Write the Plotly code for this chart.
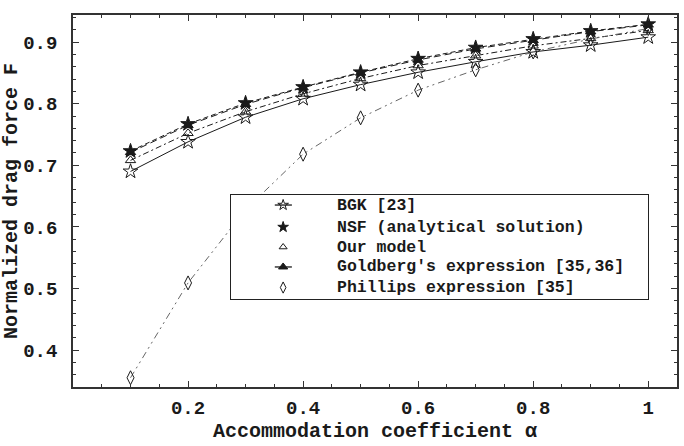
import plotly.graph_objects as go

alpha = [0.1, 0.2, 0.3, 0.4, 0.5, 0.6, 0.7, 0.8, 0.9, 1.0]
bgk = [0.690, 0.738, 0.778, 0.808, 0.831, 0.851, 0.868, 0.884, 0.895, 0.908]
nsf = [0.723, 0.767, 0.801, 0.827, 0.851, 0.873, 0.891, 0.905, 0.918, 0.929]
our_model = [0.708, 0.752, 0.787, 0.816, 0.841, 0.862, 0.878, 0.894, 0.906, 0.919]
goldberg = [0.721, 0.765, 0.799, 0.826, 0.850, 0.871, 0.889, 0.903, 0.917, 0.928]
phillips = [0.355, 0.509, 0.628, 0.718, 0.777, 0.822, 0.855, 0.884, 0.905, 0.922]

x_ticks = [0.2, 0.4, 0.6, 0.8, 1.0]
x_ticktext = ["0.2", "0.4", "0.6", "0.8", "1"]
y_ticks = [0.4, 0.5, 0.6, 0.7, 0.8, 0.9]
y_ticktext = ["0.4", "0.5", "0.6", "0.7", "0.8", "0.9"]

names = ["BGK [23]", "NSF (analytical solution)", "Our model",
         "Goldberg's expression [35,36]", "Phillips expression [35]"]

FONT = "Liberation Mono, Courier New, monospace"
INK = "#1a1a1a"

series = [
    (bgk, "star-open", 11, 8, "solid", INK),
    (nsf, "star", 11, 8, "5px,3px", INK),
    (our_model, "triangle-up-open", 9, 7, "6px,3px,2px,3px", INK),
    (goldberg, "triangle-up", 9, 8, "7px,4px", INK),
    (phillips, "diamond-tall-open", 10, 8, "7px,4px,2px,4px,2px,4px", "#666"),
]

fig = go.Figure()
for (vals, sym, sz, lsz, dash, lc), nm in zip(series, names):
    fig.add_trace(go.Scatter(
        x=alpha, y=vals, mode="lines+markers", name=nm, showlegend=False,
        line=dict(color=lc, width=1, dash=dash),
        marker=dict(symbol=sym, size=sz, color=INK,
                    line=dict(color=INK, width=1)),
        xaxis="x", yaxis="y"))

# custom legend drawn in an inset subplot (opaque box)
sym_x = 0.125
txt_x = 0.25
rows = [0.904, 0.692, 0.5, 0.308, 0.11]
for i, ((vals, sym, sz, lsz, dash, lc), nm) in enumerate(zip(series, names)):
    if i in (0, 3):
        fig.add_trace(go.Scatter(
            x=[0.105, 0.146], y=[rows[i], rows[i]], mode="lines",
            line=dict(color=INK, width=1.3), showlegend=False,
            hoverinfo="skip", xaxis="x2", yaxis="y2"))
    fig.add_trace(go.Scatter(
        x=[sym_x], y=[rows[i]], mode="markers", showlegend=False,
        marker=dict(symbol=sym, size=lsz, color=INK,
                    line=dict(color=INK, width=1)),
        hoverinfo="skip", xaxis="x2", yaxis="y2"))
    fig.add_annotation(x=txt_x, y=rows[i], xref="x2", yref="y2",
                       text=nm, showarrow=False, xanchor="left",
                       yanchor="middle",
                       font=dict(family=FONT, size=16.5, color=INK,
                                 weight="bold"))

axis_common = dict(
    showgrid=False, zeroline=False, showline=True, linecolor="#333",
    linewidth=1.5, mirror="allticks", ticks="inside", ticklen=6,
    tickwidth=1, tickcolor="#333", automargin=False,
    tickfont=dict(family=FONT, size=19, color=INK, weight="bold"),
)

fig.update_layout(
    width=684, height=446,
    margin=dict(l=73, r=7, t=15, b=59),
    paper_bgcolor="white", plot_bgcolor="white",
    showlegend=False,
    xaxis=dict(
        range=[0, 1.05], tickvals=x_ticks, ticktext=x_ticktext,
        minor=dict(dtick=0.05, tick0=0, ticks="inside", ticklen=3,
                   tickcolor="#333"),
        ticklabelstandoff=2,
        title=dict(text="Accommodation coefficient α", standoff=4,
                   font=dict(family=FONT, size=20, color=INK, weight="bold")),
        **axis_common),
    yaxis=dict(
        range=[0.34, 0.944], tickvals=y_ticks, ticktext=y_ticktext,
        minor=dict(dtick=0.02, tick0=0, ticks="inside", ticklen=3,
                   tickcolor="#333"),
        ticklabelstandoff=10,
        title=dict(text="Normalized drag force F", standoff=5,
                   font=dict(family=FONT, size=20, color=INK, weight="bold")),
        **axis_common),
    xaxis2=dict(domain=[0.2616, 0.952], range=[0, 1], anchor="y2",
                showgrid=False, zeroline=False, showticklabels=False,
                ticks="", showline=True, mirror=True, linecolor="#222",
                linewidth=1.3, automargin=False),
    yaxis2=dict(domain=[0.2366, 0.516], range=[0, 1], anchor="x2",
                showgrid=False, zeroline=False, showticklabels=False,
                ticks="", showline=True, mirror=True, linecolor="#222",
                linewidth=1.3, automargin=False),
)

fig.write_html("out.html",
               config={"displayModeBar": False},
               post_script="document.body.style.margin='0';"
                           "document.body.style.overflow='hidden';")
